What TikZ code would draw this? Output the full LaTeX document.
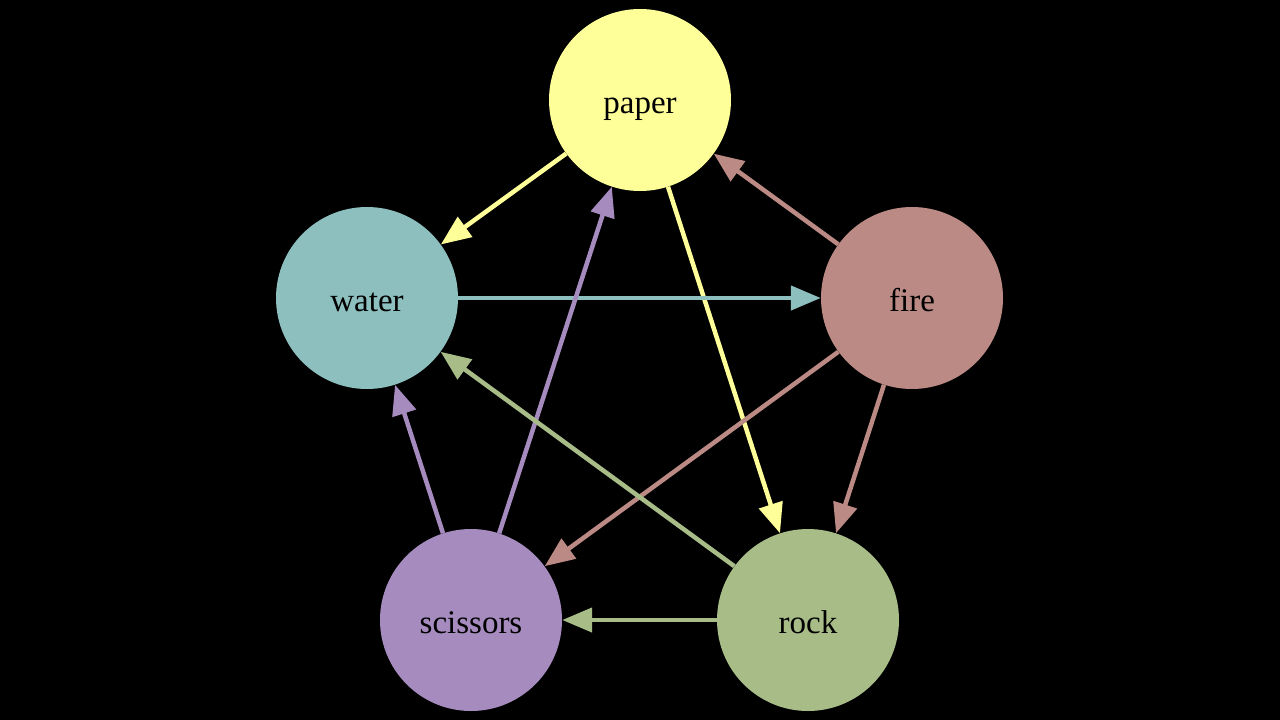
\documentclass[tikz,border=0pt]{standalone}
\usepackage{fontspec}
\setmainfont{Liberation Serif}
\usetikzlibrary{arrows.meta}
\definecolor{cpaper}{RGB}{255,255,153}
\definecolor{cwater}{RGB}{141,191,191}
\definecolor{cfire}{RGB}{188,138,133}
\definecolor{cscis}{RGB}{166,139,191}
\definecolor{crock}{RGB}{168,188,136}
\begin{document}
\begin{tikzpicture}[x=1pt,y=-1pt,
  elem/.style={circle,minimum size=182pt,inner sep=0pt,font=\fontsize{33}{36}\selectfont,text=black,text height=26pt,text depth=0pt},
  edge/.style={line width=4.5pt,-{Triangle[length=30pt,width=24pt]}}]
\fill[black] (0,0) rectangle (1280,720);
\useasboundingbox (0,0) rectangle (1280,720);
\node[elem,fill=cpaper] (paper) at (640,100) {paper};
\node[elem,fill=cwater] (water) at (367,298) {water};
\node[elem,fill=cfire] (fire) at (912,298) {fire};
\node[elem,fill=cscis] (scissors) at (471,620) {scissors};
\node[elem,fill=crock] (rock) at (808,620) {rock};
\draw[edge,cpaper] (paper) -- (water);
\draw[edge,cpaper] (paper) -- (rock);
\draw[edge,cwater] (water) -- (fire);
\draw[edge,cfire] (fire) -- (paper);
\draw[edge,cfire] (fire) -- (scissors);
\draw[edge,cfire] (fire) -- (rock);
\draw[edge,cscis] (scissors) -- (paper);
\draw[edge,cscis] (scissors) -- (water);
\draw[edge,crock] (rock) -- (water);
\draw[edge,crock] (rock) -- (scissors);
\end{tikzpicture}
\end{document}
